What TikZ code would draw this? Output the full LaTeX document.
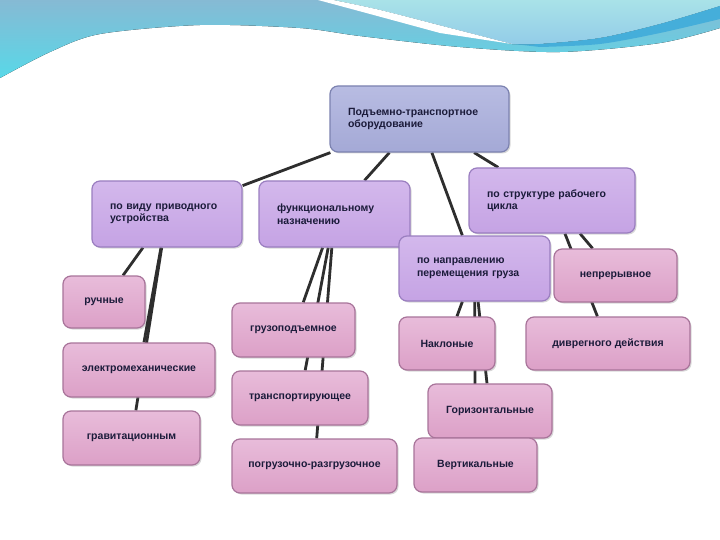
\documentclass[tikz,border=0pt]{standalone}
\usepackage{fontspec}
\setmainfont{Liberation Sans}
\usetikzlibrary{shadows,backgrounds}

\definecolor{wavetop}{HTML}{86BAD4}
\definecolor{wavelow}{HTML}{58D8E8}
\definecolor{wavelight}{HTML}{A9E2E8}
\definecolor{wavelightlow}{HTML}{92CCE8}
\definecolor{wavestripe}{HTML}{45AEDA}
\definecolor{ink}{HTML}{1B1B3A}
\definecolor{linkgray}{HTML}{2E2E2E}
\definecolor{rootfill}{HTML}{A4A9D6}
\definecolor{roottop}{HTML}{B8BCE2}
\definecolor{rootline}{HTML}{7C82B0}
\definecolor{grpfill}{HTML}{C5A3E4}
\definecolor{grptop}{HTML}{D3B8EC}
\definecolor{grpline}{HTML}{9A7EC0}
\definecolor{leaffill}{HTML}{DCA0C7}
\definecolor{leaftop}{HTML}{E8BCDA}
\definecolor{leafline}{HTML}{A8749A}

\tikzset{
    base/.style={rectangle, rounded corners=8pt, line width=1.2pt, text=ink,
        font=\bfseries\fontsize{10.5}{12.5}\selectfont,
        drop shadow={shadow xshift=1.5pt, shadow yshift=-1.5pt, opacity=0.3}},
    toplvl/.style={base, draw=rootline, top color=roottop, bottom color=rootfill,
        align=left, inner xsep=18pt},
    group/.style={base, draw=grpline, top color=grptop, bottom color=grpfill,
        align=left, inner xsep=18pt},
    leaf/.style={base, draw=leafline, top color=leaftop, bottom color=leaffill,
        align=center},
    link/.style={draw=linkgray, line width=2.8pt}
}

\begin{document}
\begin{tikzpicture}[x=1pt,y=-1pt]
    \useasboundingbox (0,0) rectangle (720,540);

    \begin{scope}[on background layer]
        % page
        \fill[white] (0,0) rectangle (720,540);

        % header wave
        \fill[top color=wavetop, bottom color=wavelow] (720,0) -- (0,0)
            -- plot[smooth] coordinates {(0,78) (50,52) (100,34) (200,25) (300,28)
                (360,36) (460,47) (560,52) (660,43) (720,28)} -- cycle;
        \fill[top color=wavelight, bottom color=wavelightlow] (333,0) -- (720,0)
            -- plot[smooth] coordinates {(720,6) (660,24) (600,38) (540,44) (512,44)}
            -- plot[smooth] coordinates {(450,28) (380,10) (333,0)} -- cycle;
        \fill[wavestripe] plot[smooth] coordinates {(720,6) (660,24) (600,38) (540,44) (514,44)}
            -- plot[smooth] coordinates {(540,47) (600,44) (660,33) (720,19)} -- cycle;
        \fill[white] plot[smooth] coordinates {(333,0) (380,10) (450,28) (512,44)}
            -- plot[smooth] coordinates {(440,33) (370,14) (318,0)} -- cycle;
    \end{scope}

    % root
    \node[toplvl, text width=143pt, minimum height=66pt] (equip) at (419.5,119)
        {Подъемно-транспортное\\оборудование};

    % groups
    \node[group, text width=114pt, minimum height=66pt] (drive) at (167,214)
        {по виду приводного\\устройства};
    \node[group, text width=115pt, minimum height=66pt] (purpose) at (334.5,214)
        {функциональному\\назначению};
    \node[group, text width=130pt, minimum height=65pt] (cycle) at (552,200.5)
        {по структуре рабочего\\цикла};
    \node[group, text width=115pt, minimum height=65pt] (direction) at (474.5,268.5)
        {по направлению\\перемещения груза};

    % by drive
    \node[leaf, minimum width=82pt, minimum height=52pt] (manual) at (104,302) {ручные};
    \node[leaf, minimum width=152pt, minimum height=54pt] (electro) at (139,370) {электромеханические};
    \node[leaf, minimum width=137pt, minimum height=54pt] (gravity) at (131.5,438) {гравитационным};

    % by purpose
    \node[leaf, minimum width=123pt, minimum height=54pt] (lifting) at (293.5,330) {грузоподъемное};
    \node[leaf, minimum width=136pt, minimum height=54pt] (transport) at (300,398) {транспортирующее};
    \node[leaf, minimum width=165pt, minimum height=54pt] (loading) at (314.5,466) {погрузочно-разгрузочное};

    % by direction
    \node[leaf, minimum width=96pt, minimum height=53pt] (inclined) at (447,343.5) {Наклоные};
    \node[leaf, minimum width=124pt, minimum height=54pt] (horizontal) at (490,411) {Горизонтальные};
    \node[leaf, minimum width=123pt, minimum height=54pt] (vertical) at (475.5,465) {Вертикальные};

    % by cycle
    \node[leaf, minimum width=123pt, minimum height=53pt] (continuous) at (615.5,275.5) {непрерывное};
    \node[leaf, minimum width=164pt, minimum height=53pt] (discrete) at (608,343.5) {диврегного действия};

    \begin{scope}[on background layer]
        % links from root
        \draw[link] (equip) -- (drive);
        \draw[link] (equip) -- (purpose);
        \draw[link] (equip) -- (direction);
        \draw[link] (equip) -- (cycle);

        % links to leaves
        \draw[link] (drive) -- (manual);
        \draw[link] (drive) -- (electro);
        \draw[link] (drive) -- (gravity);
        \draw[link] (purpose) -- (lifting);
        \draw[link] (purpose) -- (transport);
        \draw[link] (purpose) -- (loading);
        \draw[link] (direction) -- (inclined);
        \draw[link] (direction) -- (horizontal);
        \draw[link] (direction) -- (vertical);
        \draw[link] (cycle) -- (continuous);
        \draw[link] (cycle) -- (discrete);
    \end{scope}
\end{tikzpicture}
\end{document}
